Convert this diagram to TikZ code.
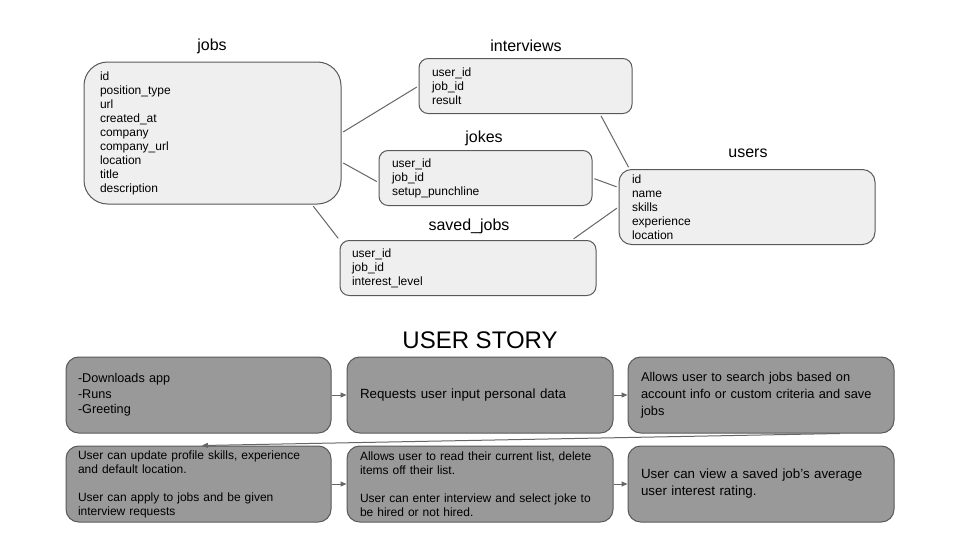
\documentclass[tikz,border=0pt]{standalone}
\usepackage{fontspec}
\setmainfont{Liberation Sans}
\usetikzlibrary{arrows.meta,calc}
\definecolor{lightfill}{HTML}{EFEFEF}
\definecolor{darkfill}{HTML}{999999}
\definecolor{edgegray}{HTML}{595959}
\definecolor{linegray}{HTML}{666666}
\begin{document}
\begin{tikzpicture}[x=0.75pt,y=-0.75pt,
 tbox/.style={draw=edgegray, fill=lightfill, line width=0.75pt, align=left, inner ysep=0pt, font=\fontsize{9}{10.5}\selectfont},
 ttitle/.style={font=\fontsize{12}{14}\selectfont, inner sep=0pt},
 sbox/.style={draw=edgegray, fill=darkfill, line width=0.75pt, align=left, inner ysep=0pt, rounded corners=9.5pt, minimum height=57pt},
 link/.style={draw=linegray, line width=0.75pt, shorten <=1.5pt, shorten >=1.5pt},
 flow/.style={draw=linegray, line width=0.75pt, -{Triangle[length=4.5pt,width=3.75pt]}}]
\useasboundingbox[fill=white] (0,0) rectangle (960,540);

% database tables
\node[tbox, rounded corners=17.75pt, inner xsep=12pt, text width=168.75pt, minimum height=106.5pt] (jobs) at (212.5,133)
 {id\\position\_type\\url\\created\_at\\company\\company\_url\\location\\title\\description};
\node[tbox, rounded corners=6.9pt, inner xsep=9.75pt, text width=140.25pt, minimum height=41.25pt] (interviews) at (525.5,86)
 {user\_id\\job\_id\\result};
\node[tbox, rounded corners=6.9pt, inner xsep=9.75pt, text width=140.25pt, minimum height=41.25pt] (jokes) at (485.5,178)
 {user\_id\\job\_id\\setup\_punchline};
\node[tbox, rounded corners=9.4pt, inner xsep=9.75pt, text width=172.5pt, minimum height=56.25pt] (users) at (747,207)
 {id\\name\\skills\\experience\\location};
\node[tbox, rounded corners=6.9pt, inner xsep=9pt, text width=174pt, minimum height=41.25pt] (saved) at (468,268)
 {user\_id\\job\_id\\interest\_level};

% titles
\node[ttitle] (jobsT) at (212,46) {jobs};
\node[ttitle] (interviewsT) at (526,46) {interviews};
\node[ttitle] (jokesT) at (484,138) {jokes};
\node[ttitle] (usersT) at (748,153) {users};
\node[ttitle] (savedT) at (469,226) {saved\_jobs};

% relations
\draw[link] (jobs.east) -- (interviews.west);
\draw[link] ([yshift=-21.75pt]jobs.east) -- ([yshift=-3.4pt]jokes.west);
\draw[link] ([xshift=74.6pt]jobs.south) -- (saved.north west);
\draw[link] ([xshift=55.9pt]interviews.south) -- ([xshift=8.25pt]users.north west);
\draw[link] (jokes.east) -- ([yshift=14.6pt]users.west);
\draw[link] ([xshift=78pt]saved.north) -- (users.west);

% user story
\node[font=\fontsize{18}{21}\selectfont, inner sep=0pt] (story) at (480,340) {USER STORY};

\node[sbox, inner xsep=9pt, text width=180.75pt, font=\fontsize{9.5}{11.6}\selectfont] (s1) at (198.5,395)
 {-Downloads app\\-Runs\\-Greeting};
\node[sbox, inner xsep=9.75pt, text width=180pt, font=\fontsize{10}{12.75}\selectfont] (s2) at (480,395)
 {Requests user input personal data};
\node[sbox, inner xsep=9.75pt, text width=180pt, font=\fontsize{9.6}{12.75}\selectfont] (s3) at (761,395)
 {Allows user to search jobs based on\\account info or custom criteria and save\\jobs};
\node[sbox, inner xsep=9pt, text width=180.75pt, font=\fontsize{9}{10.5}\selectfont] (s4) at (198.5,484)
 {User can update profile skills, experience\\and default location.\\[10.5pt]User can apply to jobs and be given\\interview requests};
\node[sbox, inner xsep=9.75pt, text width=180pt, font=\fontsize{9}{10.5}\selectfont] (s5) at (480,484)
 {Allows user to read their current list, delete\\items off their list.\\[10.5pt]User can enter interview and select joke to\\be hired or not hired.};
\node[sbox, inner xsep=9.75pt, text width=180pt, font=\fontsize{10}{12.75}\selectfont] (s6) at (761,484)
 {User can view a saved job's average\\user interest rating.};

\draw[flow] (s1.east) -- (s2.west);
\draw[flow] (s2.east) -- (s3.west);
\draw[flow] ([xshift=59.25pt]s3.south) -- ([xshift=2.6pt]s4.north);
\draw[flow] (s4.east) -- (s5.west);
\draw[flow] (s5.east) -- (s6.west);
\end{tikzpicture}
\end{document}
